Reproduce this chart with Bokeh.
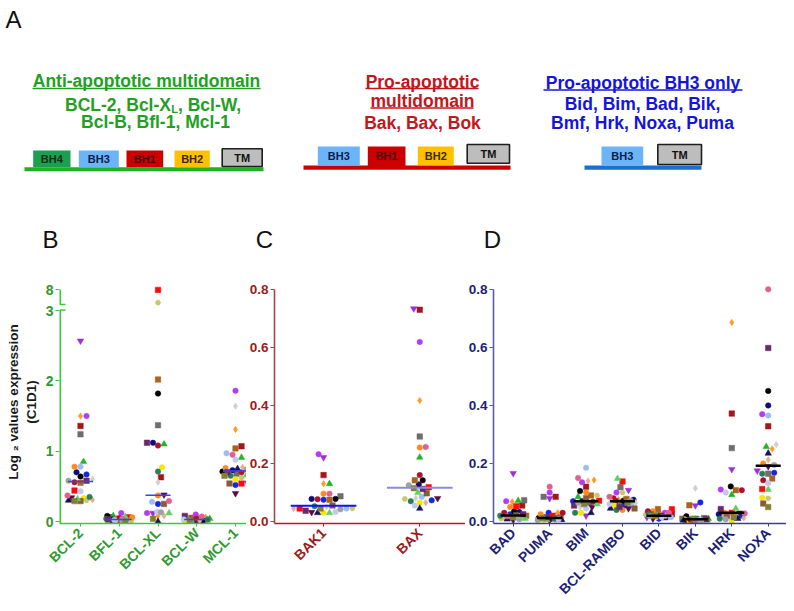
import math
import numpy as np
from bokeh.plotting import figure
from bokeh.models import Range1d, FixedTicker, ColumnDataSource, NumeralTickFormatter
from bokeh.layouts import column, row
from bokeh.embed import file_html
from bokeh.resources import INLINE
from bokeh.core.properties import value

FONT = "Liberation Sans"

# ---------------- data ----------------
# each patient keeps one colour / marker across all genes
patient_colors = ["#9b30d6", "#ff9a2a", "#a3161c", "#6e6e6e", "#22b422", "#9bbcf5", "#1428e0", "#000000",
                  "#0c0c7a", "#ff0a0a", "#f2ea00", "#a8641e", "#cfcfcf", "#c8c86a", "#ff8c1a", "#5a0a4a",
                  "#b43cf5", "#141450", "#8a5a3a", "#b01030", "#e0b090", "#2e7d5a", "#5ed25e", "#6a2a6a",
                  "#c0c8f0", "#e06090", "#a0a0a0", "#808030"]
patient_markers = ["inverted_triangle", "diamond", "square", "square", "triangle", "circle", "circle", "circle",
                   "circle", "square", "circle", "square", "diamond", "hex", "circle", "inverted_triangle",
                   "circle", "triangle", "square", "circle", "diamond", "circle", "triangle", "square",
                   "circle", "circle", "circle", "square"]

genes_B = ["BCL-2", "BFL-1", "BCL-XL", "BCL-W", "MCL-1"]
expr_BCL2 = [2.57, 1.50, 1.36, 1.24, 0.85, 0.78, 0.67, 0.64, 0.70, 0.44, 0.33, 0.55, 0.60, 0.30,
             0.78, 0.34, 1.50, 0.30, 0.29, 0.56, 0.31, 0.35, 0.32, 0.58, 0.43, 0.37, 0.58, 0.29]
expr_BFL1 = [0.02, 0.05, 0.06, 0.03, 0.08, 0.02, 0.04, 0.08, 0.03, 0.06, 0.01, 0.02, 0.03, 0.01,
             0.06, 0.00, 0.12, 0.00, 0.02, 0.05, 0.01, 0.04, 0.07, 0.03, 0.02, 0.04, 0.01, 0.00]
expr_BCLXL = [0.12, 0.08, 0.63, 1.37, 1.10, 0.28, 0.25, 1.82, 1.12, 7.90, 0.77, 2.02, 0.56, 4.50,
              0.37, 0.38, 0.12, 0.00, 0.25, 1.08, 0.08, 0.71, 0.12, 1.12, 0.14, 0.29, 0.13, 0.04]
expr_BCLW = [0.02, 0.06, 0.03, 0.02, 0.04, 0.03, 0.02, 0.01, 0.03, 0.05, 0.01, 0.04, 0.02, 0.01,
             0.05, 0.00, 0.10, 0.01, 0.02, 0.04, 0.01, 0.03, 0.05, 0.08, 0.03, 0.07, 0.00, 0.02]
expr_MCL1 = [0.55, 1.31, 1.07, 0.68, 0.91, 0.97, 0.52, 0.71, 0.73, 0.54, 0.60, 1.04, 1.64, 0.62,
             0.76, 0.40, 1.86, 0.75, 0.54, 0.70, 0.77, 0.65, 0.66, 0.70, 0.88, 0.95, 0.74, 0.65]

genes_C = ["BAK1", "BAX"]
expr_BAK1 = [0.221, 0.130, 0.160, 0.087, 0.130, 0.045, 0.075, 0.078, 0.078, 0.045, 0.030, 0.075, 0.050, 0.045,
             0.096, 0.032, 0.232, 0.030, 0.055, 0.077, 0.045, 0.053, 0.030, 0.037, 0.033, 0.096, 0.042, 0.045]
expr_BAX = [0.734, 0.417, 0.730, 0.293, 0.221, 0.085, 0.073, 0.142, 0.128, 0.118, 0.065, 0.142, 0.080, 0.078,
            0.255, 0.080, 0.619, 0.045, 0.097, 0.160, 0.065, 0.070, 0.100, 0.112, 0.055, 0.257, 0.125, 0.115]

genes_D = ["BAD", "PUMA", "BIM", "BCL-RAMBO", "BID", "BIK", "HRK", "NOXA"]
expr_BAD = [0.166, 0.068, 0.055, 0.073, 0.072, 0.015, 0.025, 0.035, 0.033, 0.053, 0.012, 0.020, 0.018, 0.010,
            0.050, 0.005, 0.070, 0.008, 0.022, 0.030, 0.015, 0.020, 0.010, 0.025, 0.012, 0.018, 0.008, 0.015]
expr_PUMA = [0.080, 0.030, 0.085, 0.085, 0.010, 0.008, 0.030, 0.012, 0.010, 0.020, 0.005, 0.015, 0.010, 0.005,
             0.025, 0.004, 0.100, 0.006, 0.012, 0.030, 0.008, 0.010, 0.006, 0.015, 0.008, 0.120, 0.005, 0.012]
expr_BIM = [0.020, 0.143, 0.120, 0.065, 0.085, 0.185, 0.070, 0.105, 0.070, 0.072, 0.030, 0.090, 0.050, 0.090,
            0.100, 0.050, 0.135, 0.030, 0.080, 0.068, 0.140, 0.030, 0.060, 0.055, 0.045, 0.150, 0.065, 0.060]
expr_RAMBO = [0.108, 0.075, 0.070, 0.118, 0.065, 0.060, 0.055, 0.072, 0.075, 0.138, 0.055, 0.078, 0.065, 0.100,
              0.040, 0.045, 0.100, 0.045, 0.045, 0.080, 0.070, 0.040, 0.148, 0.050, 0.060, 0.085, 0.072, 0.065]
expr_BID = [0.015, 0.030, 0.025, 0.020, 0.030, 0.015, 0.010, 0.020, 0.020, 0.042, 0.015, 0.043, 0.020, 0.025,
            0.035, 0.010, 0.030, 0.012, 0.025, 0.035, 0.020, 0.025, 0.020, 0.020, 0.015, 0.030, 0.018, 0.020]
expr_BIK = [0.055, 0.008, 0.005, 0.010, 0.010, 0.005, 0.066, 0.018, 0.008, 0.005, 0.003, 0.056, 0.115, 0.005,
            0.008, 0.002, 0.010, 0.004, 0.012, 0.006, 0.005, 0.010, 0.004, 0.008, 0.006, 0.005, 0.003, 0.010]
expr_HRK = [0.180, 0.686, 0.372, 0.253, 0.092, 0.020, 0.020, 0.121, 0.025, 0.030, 0.002, 0.108, 0.015, 0.025,
            0.030, 0.030, 0.110, 0.010, 0.020, 0.108, 0.012, 0.010, 0.045, 0.043, 0.100, 0.028, 0.008, 0.015]
expr_NOXA = [0.175, 0.250, 0.328, 0.165, 0.258, 0.365, 0.168, 0.450, 0.400, 0.112, 0.082, 0.148, 0.265, 0.080,
             0.200, 0.190, 0.370, 0.235, 0.062, 0.142, 0.213, 0.165, 0.110, 0.598, 0.132, 0.800, 0.195, 0.050]

yticks_B = [0, 1, 2, 3, 8]
yticks_CD = [0.0, 0.2, 0.4, 0.6, 0.8]

# ---------------- helpers ----------------
def swarm(px, d, maxoff):
    n = len(px)
    order = np.argsort(px, kind="stable")
    offs = np.zeros(n)
    placed = []
    cands = sorted(np.arange(-maxoff, maxoff + 0.01, 1.0), key=lambda o: (abs(o), -o))
    flip = 1
    for i in order:
        y = px[i]
        best, bo, bestd = None, 0.0, -1
        for o in cands:
            o = o * flip
            md = min([math.hypot(o - po, y - py) for po, py in placed], default=1e9)
            if md >= d:
                best = o
                break
            if md > bestd:
                bestd, bo = md, o
        if best is None:
            best = bo
        flip = -flip
        placed.append((best, y))
        offs[i] = best
    return offs


def break_map(v):
    # broken axis of panel B: 0..3 linear, then a compressed segment up to 8
    v = np.asarray(v, dtype=float)
    return np.where(v <= 3, v, 3.087 + (np.maximum(v, 4) - 4) * (0.213 / 4))


# ---------------- top schematic ----------------
GREEN_T, RED_T, BLUE_T = "#23a023", "#c4161c", "#1414dc"
top = figure(width=794, height=270, x_range=Range1d(0, 794), y_range=Range1d(270, 0),
             x_axis_location=None, y_axis_location=None, output_backend="svg",
             toolbar_location=None, min_border=0)
top.grid.visible = False
top.outline_line_color = None

def txt(fig, x, y, s, color, size, style="bold", align="center"):
    fig.text(x=[x], y=[y], text=[s], text_color=color, text_font=value(FONT),
             text_font_size=size, text_font_style=style, text_align=align, text_baseline="middle")

TS = "17.5px"
txt(top, 146, 80.5, "Anti-apoptotic multidomain", GREEN_T, TS)
top.segment(x0=[32], x1=[260], y0=[88], y1=[88], line_color=GREEN_T, line_width=1.6)
txt(top, 64.5, 104.7, "BCL-2, Bcl-X", GREEN_T, TS, align="left")
txt(top, 170.8, 108.8, "L", GREEN_T, "11px", align="left")
txt(top, 177.5, 104.7, ", Bcl-W,", GREEN_T, TS, align="left")
txt(top, 155, 121.7, "Bcl-B, Bfl-1, Mcl-1", GREEN_T, TS)

txt(top, 422, 81, "Pro-apoptotic", RED_T, TS)
top.segment(x0=[365], x1=[478], y0=[88], y1=[88], line_color=RED_T, line_width=1.6)
txt(top, 422, 100.5, "multidomain", RED_T, TS)
top.segment(x0=[370], x1=[473], y0=[107.5], y1=[107.5], line_color=RED_T, line_width=1.6)
txt(top, 422, 122, "Bak, Bax, Bok", RED_T, TS)

txt(top, 642.5, 82.5, "Pro-apoptotic BH3 only", BLUE_T, TS)
top.segment(x0=[543], x1=[742], y0=[89.5], y1=[89.5], line_color=BLUE_T, line_width=1.6)
txt(top, 642, 103.5, "Bid, Bim, Bad, Bik,", BLUE_T, TS)
txt(top, 642, 122, "Bmf, Hrk, Noxa, Puma", BLUE_T, TS)

# base lines of the domain diagrams
top.quad(left=[24, 303, 584], right=[263, 510, 701], top=[166.7, 165, 165], bottom=[170.7, 169.3, 169.3],
         fill_color=["#20b020", "#cc0000", "#1a6fd0"], line_color=None)
# domain boxes: left, right, top, bottom, fill, label, label colour
boxes = [
    (32.7, 70.0, 150, 166.7, "#1aa050", "BH4", "#10301a"),
    (78.3, 118.3, 150, 166.7, "#6cb4f8", "BH3", "#0c1c48"),
    (126.0, 162.7, 150, 166.7, "#cc0000", "BH1", "#500000"),
    (174.0, 209.3, 150, 166.7, "#ffc000", "BH2", "#3a2800"),
    (317.3, 359.3, 146, 164.5, "#6cb4f8", "BH3", "#0c1c48"),
    (367.3, 405.0, 146, 165.5, "#cc0000", "BH1", "#500000"),
    (417.3, 453.3, 146, 164.5, "#ffc000", "BH2", "#3a2800"),
    (601.0, 642.7, 146, 165.5, "#6cb4f8", "BH3", "#0c1c48"),
]
tms = [(221.7, 261.7, 148.3, 166.0), (466.7, 509.0, 144, 162.7), (657.3, 701.0, 144, 164.0)]
top.quad(left=[b[0] for b in boxes], right=[b[1] for b in boxes], top=[b[2] for b in boxes],
         bottom=[b[3] for b in boxes], fill_color=[b[4] for b in boxes], line_color=None)
top.text(x=[(b[0] + b[1]) / 2 for b in boxes], y=[(b[2] + b[3]) / 2 for b in boxes],
         text=[b[5] for b in boxes], text_color=[b[6] for b in boxes], text_font=value(FONT),
         text_font_size="11px", text_font_style="bold", text_align="center", text_baseline="middle")
top.quad(left=[t[0] for t in tms], right=[t[1] for t in tms], top=[t[2] for t in tms],
         bottom=[t[3] for t in tms], fill_color="#bdbdbd", line_color="#1e1e1e", line_width=1.6)
top.text(x=[(t[0] + t[1]) / 2 for t in tms], y=[(t[2] + t[3]) / 2 for t in tms], text=["TM"] * 3,
         text_color="#111111", text_font=value(FONT), text_font_size="11px", text_font_style="bold",
         text_align="center", text_baseline="middle")

# panel letters
top.text(x=[13, 50, 264, 492], y=[19, 239, 239, 239], text=["A", "B", "C", "D"], text_color="#111111",
         text_font=value(FONT), text_font_size="24px", text_align="center", text_baseline="middle")

# ---------------- scatter panels ----------------
PAGE_TOP, FRAME_TOP, PAGE_BOTTOM = 270, 280, 608


def make_panel(genes, values, page_left, page_right, frame_left, cat0_x, step, zero_y, ppu, frame_bottom,
               label_color, tick_size, xaxis_color, yaxis_color, med_colors, med_half_px, med_width,
               spread_px, mapper=None):
    width = page_right - page_left
    xs = (frame_left - cat0_x) / step
    xe = (page_right - cat0_x) / step
    ye = (zero_y - FRAME_TOP) / ppu
    ys = -(frame_bottom - zero_y) / ppu
    p = figure(width=width, height=PAGE_BOTTOM - PAGE_TOP, x_range=Range1d(xs, xe), y_range=Range1d(ys, ye),
               output_backend="svg", toolbar_location=None,
               min_border_left=frame_left - page_left, min_border_right=0,
               min_border_top=FRAME_TOP - PAGE_TOP, min_border_bottom=PAGE_BOTTOM - frame_bottom)
    p.grid.visible = False
    p.outline_line_color = None
    p.background_fill_color = None
    p.border_fill_color = None

    xs_all, ys_all, cols, marks, sizes = [], [], [], [], []
    for i, vals in enumerate(values):
        yv = mapper(vals) if mapper else np.asarray(vals, dtype=float)
        px = yv * ppu
        offs = swarm(px, 5.6, spread_px)
        for k in range(len(vals)):
            xs_all.append(i + offs[k] / step)
            ys_all.append(float(yv[k]))
            cols.append(patient_colors[k])
            marks.append(patient_markers[k])
            sizes.append(6.5 if patient_markers[k] in ("triangle", "inverted_triangle", "diamond") else 5.5)
    src = ColumnDataSource(dict(x=xs_all, y=ys_all, c=cols, m=marks, s=sizes))
    p.scatter(x="x", y="y", marker="m", size="s", fill_color="c", line_color="c", line_width=0.5, source=src)

    meds = [float(np.median(v)) for v in values]
    medy = [float(mapper([m])[0]) if mapper else m for m in meds]
    hw = med_half_px / step
    p.segment(x0=[i - hw for i in range(len(genes))], x1=[i + hw for i in range(len(genes))],
              y0=medy, y1=medy, line_color=med_colors, line_width=med_width)

    xa = p.xaxis[0]
    xa.ticker = FixedTicker(ticks=list(range(len(genes))))
    xa.major_label_overrides = {i: g for i, g in enumerate(genes)}
    xa.major_label_orientation = math.pi / 4
    xa.major_label_text_font = FONT
    xa.major_label_text_font_style = "bold"
    xa.major_label_text_font_size = "14px"
    xa.major_label_text_color = label_color
    xa.axis_line_color = xaxis_color
    xa.axis_line_width = 1.6
    xa.major_tick_line_color = xaxis_color
    xa.major_tick_in = 0
    xa.major_tick_out = 3
    xa.minor_tick_line_color = None
    xa.major_label_standoff = 4

    ya = p.yaxis[0]
    ya.major_label_text_font = FONT
    ya.major_label_text_font_style = "bold"
    ya.major_label_text_font_size = tick_size
    ya.major_label_text_color = label_color
    ya.axis_line_color = yaxis_color
    ya.axis_line_width = 1.6
    ya.major_tick_line_color = yaxis_color
    ya.major_tick_in = 0
    ya.major_tick_out = 4
    ya.minor_tick_line_color = None
    ya.major_label_standoff = 2
    return p, xs, ys


# Panel B (broken axis)
B_GREEN_TXT, B_GREEN_LINE = "#2f9a2f", "#3cc83c"
pB, xsB, ysB = make_panel(genes_B, [expr_BCL2, expr_BFL1, expr_BCLXL, expr_BCLW, expr_MCL1],
                          page_left=0, page_right=246, frame_left=59, cat0_x=80, step=38.75,
                          zero_y=521, ppu=70.3, frame_bottom=523, label_color=B_GREEN_TXT, tick_size="14px",
                          xaxis_color=B_GREEN_LINE, yaxis_color=B_GREEN_LINE, med_colors="#3344ff",
                          med_half_px=12.5, med_width=1.5, spread_px=13, mapper=break_map)
tick_pos_B = [float(t) for t in break_map(yticks_B)]
yaB = pB.yaxis[0]
yaB.ticker = FixedTicker(ticks=tick_pos_B)
yaB.major_label_overrides = {tp: str(t) for tp, t in zip(tick_pos_B, yticks_B)}
yaB.axis_line_color = None
yaB.axis_label = "Log \u2082 values expression\n(C1D1)"
yaB.axis_label_text_font = FONT
yaB.axis_label_text_font_style = "bold"
yaB.axis_label_text_font_size = "13.5px"
yaB.axis_label_text_color = "#1a1a1a"
yaB.axis_label_standoff = 4
# hand-drawn broken y axis line
lower_top = 3.01
upper_bot = 3.087
pB.segment(x0=[xsB, xsB], x1=[xsB, xsB], y0=[ysB, upper_bot], y1=[lower_top, tick_pos_B[-1]],
           line_color=B_GREEN_LINE, line_width=3.2)
brk = 6 / 38.75
pB.segment(x0=[xsB, xsB], x1=[xsB + brk, xsB + brk], y0=[lower_top, upper_bot], y1=[lower_top, upper_bot],
           line_color=B_GREEN_LINE, line_width=1.5)

# Panel C
pC, xsC, ysC = make_panel(genes_C, [expr_BAK1, expr_BAX],
                          page_left=246, page_right=465, frame_left=273, cat0_x=322.3, step=96.7,
                          zero_y=522, ppu=291.25, frame_bottom=524, label_color="#9c1c1c", tick_size="13.5px",
                          xaxis_color="#d01010", yaxis_color="#a04848", med_colors=["#1111ff", "#8a8ade"],
                          med_half_px=33, med_width=2, spread_px=32)
pC.yaxis[0].ticker = FixedTicker(ticks=yticks_CD)
pC.yaxis[0].formatter = NumeralTickFormatter(format="0.0")
pC.yaxis[0].bounds = (ysC, 0.8)

# Panel D
pD, xsD, ysD = make_panel(genes_D, [expr_BAD, expr_PUMA, expr_BIM, expr_RAMBO, expr_BID, expr_BIK,
                                    expr_HRK, expr_NOXA],
                          page_left=465, page_right=786, frame_left=493, cat0_x=512.7, step=36.43,
                          zero_y=525, ppu=295, frame_bottom=527, label_color="#1e1e78", tick_size="13.5px",
                          xaxis_color="#3c3c96", yaxis_color="#5a5aa6", med_colors="#000000",
                          med_half_px=12.5, med_width=2.5, spread_px=13)
pD.yaxis[0].ticker = FixedTicker(ticks=yticks_CD)
pD.yaxis[0].formatter = NumeralTickFormatter(format="0.0")
pD.yaxis[0].bounds = (ysD, 0.8)

layout = column(top, row(pB, pC, pD, spacing=0), spacing=0)
open("out.html", "w").write(file_html(layout, INLINE))
